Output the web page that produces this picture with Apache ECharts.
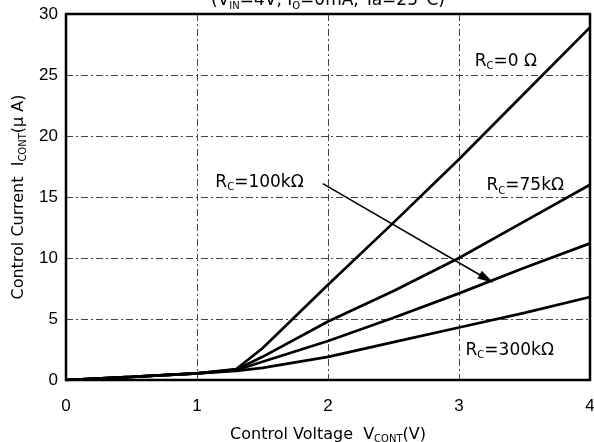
<!DOCTYPE html>
<html>
<head>
<meta charset="utf-8">
<script src="https://cdn.jsdelivr.net/npm/echarts@6/dist/echarts.min.js"></script>
<style>
  html, body { margin: 0; padding: 0; background: #fff; }
  #chart { width: 594px; height: 442px; }
</style>
</head>
<body>
<div id="chart"></div>
<script>
// control voltage (V) sample points
const voltage = [0, 0.5, 1, 1.3, 1.5, 2, 2.5, 3, 3.5, 4];
// control current (uA) for each Rc
const rc0 = [0, 0.25, 0.55, 0.9, 2.6, 7.8, 12.9, 18.1, 23.5, 28.9];
const rc75k = [0, 0.25, 0.55, 0.85, 1.9, 4.8, 7.3, 10.0, 13.0, 16.0];
const rc100k = [0, 0.25, 0.55, 0.8, 1.5, 3.2, 5.1, 7.1, 9.2, 11.2];
const rc300k = [0, 0.25, 0.55, 0.75, 1.0, 1.9, 3.1, 4.3, 5.5, 6.8];

// annotation labels, positioned in data units
const labels = [
  { sub: 'C', tail: '=0 Ω', x: 3.12, y: 26.1 },
  { sub: 'C', tail: '=75kΩ', x: 3.21, y: 15.9 },
  { sub: 'C', tail: '=100kΩ', x: 1.14, y: 16.2 },
  { sub: 'C', tail: '=300kΩ', x: 3.05, y: 2.4 }
];
const arrowFrom = [1.96, 16.1];
const arrowTo = [3.21, 8.3];

const pairs = (ys) => voltage.map((v, i) => [v, ys[i]]);

const font = '"DejaVu Sans", sans-serif';
const tickFont = '"Liberation Sans", Arial, sans-serif';
const rich = {
  r: { fontSize: 17, fontFamily: font, color: '#000', lineHeight: 20 },
  s: { fontSize: 10, fontFamily: font, color: '#000', verticalAlign: 'bottom', lineHeight: 12, padding: [8, 0, 0, 0] }
};
const richAxis = {
  r: { fontSize: 16, fontFamily: font, color: '#000', lineHeight: 19 },
  s: { fontSize: 10, fontFamily: font, color: '#000', verticalAlign: 'bottom', lineHeight: 12, padding: [7, 0, 0, 0] }
};

const chart = echarts.init(document.getElementById('chart'), null, { renderer: 'canvas' });

const gridStyle = { color: '#444', width: 1, type: [7, 3, 2, 3] };

function curve(ys) {
  return {
    type: 'line',
    data: pairs(ys),
    showSymbol: false,
    lineStyle: { color: '#000', width: 2.7 },
    z: 5
  };
}

const series = [curve(rc0), curve(rc75k), curve(rc100k), curve(rc300k)];
series[2].markLine = {
  silent: true,
  symbol: ['none', 'triangle'],
  symbolSize: [9, 16],
  lineStyle: { color: '#000', width: 1.5, type: 'solid' },
  label: { show: false },
  data: [[{ coord: arrowFrom }, { coord: arrowTo }]]
};

chart.setOption({
  animation: false,
  backgroundColor: '#fff',
  grid: { left: 66, right: 4, top: 14, bottom: 62, containLabel: false, outerBoundsMode: 'none' },
  xAxis: {
    type: 'value',
    min: 0, max: 4, interval: 1,
    name: '{r|Control Voltage  V}{s|CONT}{r|(V)}',
    nameLocation: 'middle',
    nameGap: 45,
    nameTextStyle: { rich: richAxis },
    axisLine: { show: true, onZero: false, lineStyle: { color: '#000', width: 2 } },
    axisTick: { show: false },
    axisLabel: { margin: 18, fontSize: 17, color: '#000', fontFamily: tickFont },
    splitLine: { show: true, lineStyle: gridStyle }
  },
  yAxis: {
    type: 'value',
    min: 0, max: 30, interval: 5,
    name: '{r|Control Current  I}{s|CONT}{r|(μ A)}',
    nameLocation: 'middle',
    nameGap: 33,
    nameRotate: 90,
    nameTextStyle: { rich: richAxis },
    axisLine: { show: true, lineStyle: { color: '#000', width: 2 } },
    axisTick: { show: false },
    axisLabel: { margin: 8, fontSize: 17, color: '#000', fontFamily: tickFont },
    splitLine: { show: true, lineStyle: gridStyle }
  },
  series: series
});

// frame + annotations placed through the axis scales
const tl = chart.convertToPixel({ gridIndex: 0 }, [0, 30]);
const br = chart.convertToPixel({ gridIndex: 0 }, [4, 0]);
const graphics = [
  {
    type: 'rect',
    shape: { x: tl[0], y: tl[1], width: br[0] - tl[0], height: br[1] - tl[1] },
    style: { fill: 'none', stroke: '#000', lineWidth: 2.5 },
    z: 10
  },
  {
    type: 'text',
    x: (tl[0] + br[0]) / 2,
    y: -9,
    style: {
      text: '{r|(V}{s|IN}{r|=4V, I}{s|O}{r|=0mA, Ta=25°C)}',
      rich: rich,
      align: 'center'
    },
    z: 10
  }
];
labels.forEach(l => {
  const p = chart.convertToPixel({ gridIndex: 0 }, [l.x, l.y]);
  graphics.push({
    type: 'text',
    x: p[0], y: p[1],
    style: {
      text: '{r|R}{s|' + l.sub + '}{r|' + l.tail + '}',
      rich: rich,
      align: 'left',
      verticalAlign: 'middle'
    },
    z: 10
  });
});
chart.setOption({ graphic: graphics });
</script>
</body>
</html>
